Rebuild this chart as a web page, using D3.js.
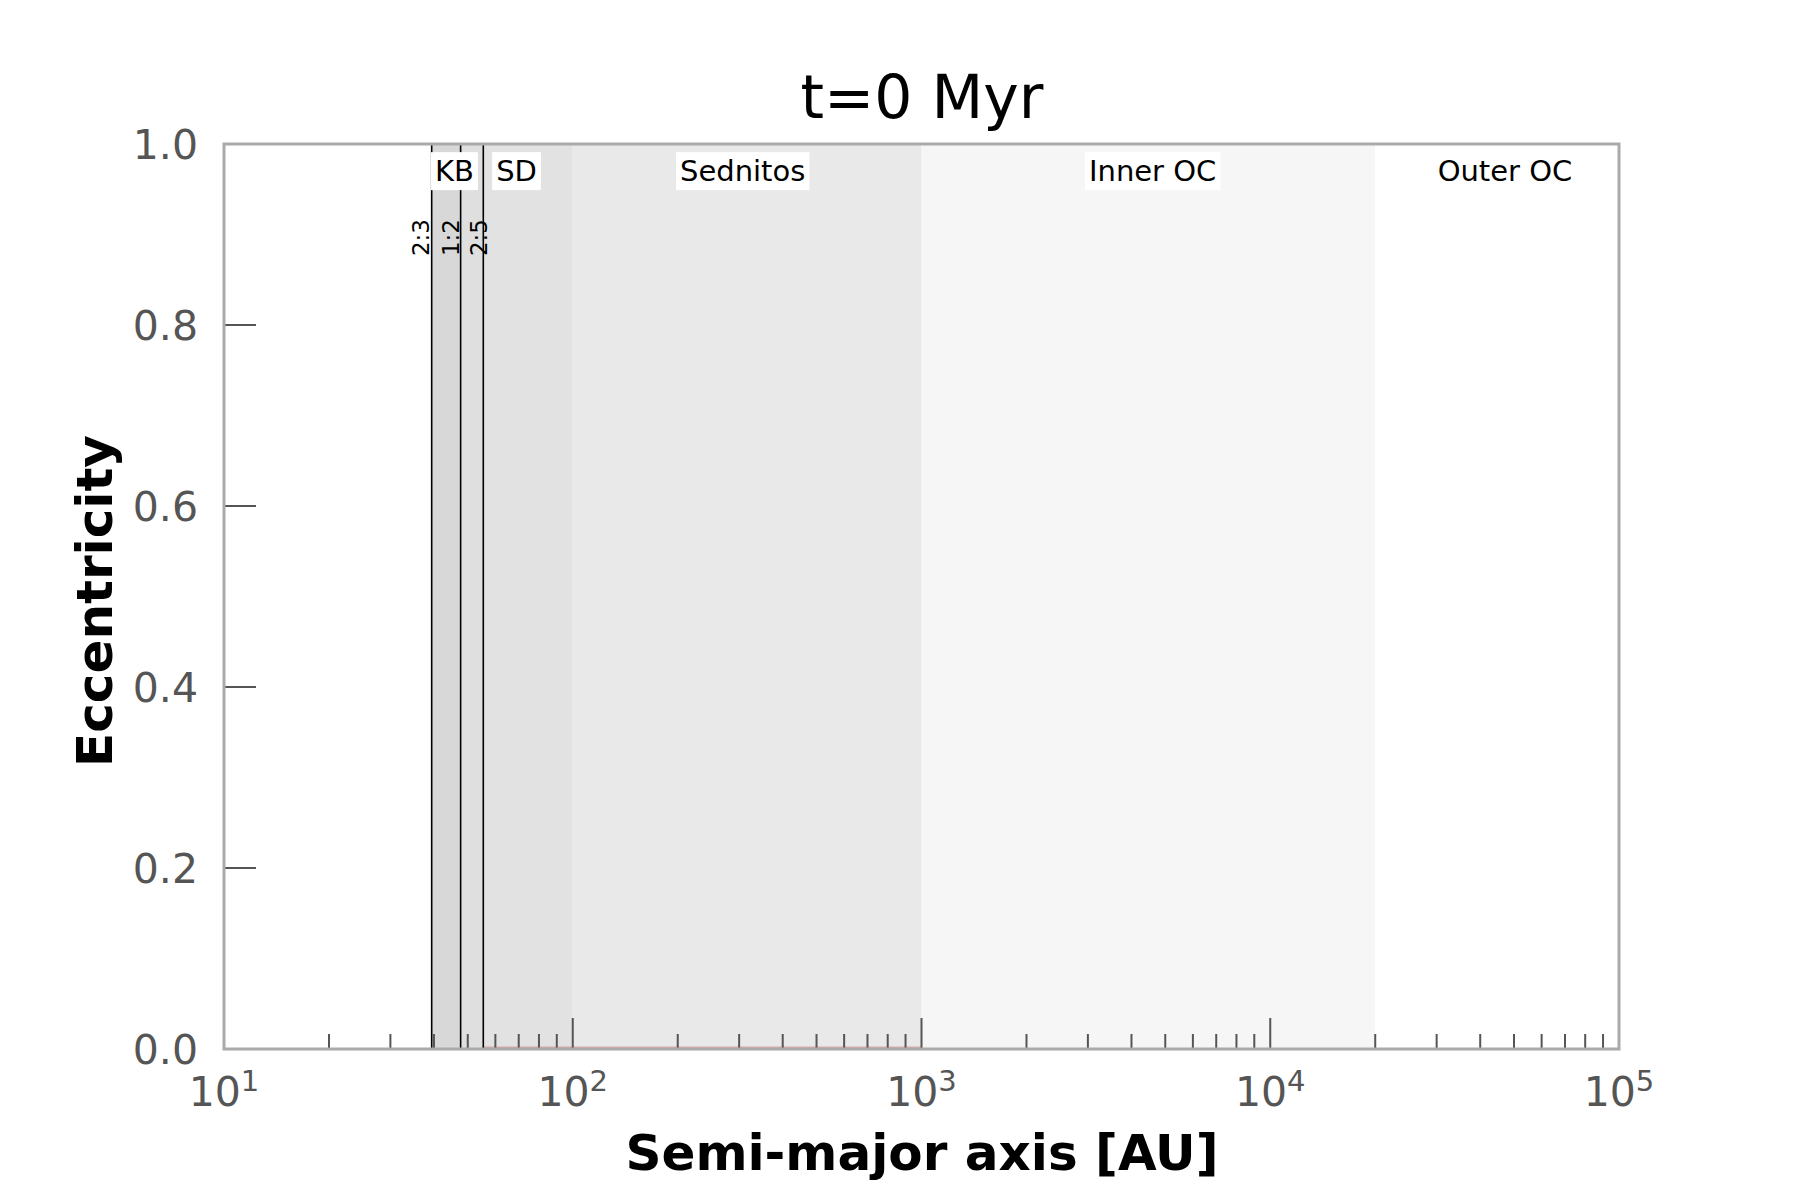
<!DOCTYPE html>
<html>
<head>
<meta charset="utf-8">
<script src="https://cdn.jsdelivr.net/npm/d3@7"></script>
<style>
  body { margin: 0; background: #fff; }
  svg { font-family: "DejaVu Sans", sans-serif; }
</style>
</head>
<body>
<svg id="canvas" width="1800" height="1200"></svg>
<script>
// data
var regionStart = [39.4, 47.7, 55.4, 100, 1000, 20000];
var regionEnd   = [47.7, 55.4, 100, 1000, 20000, 100000];
var regionFill  = ['#d8d8d8', '#dfdfdf', '#e2e2e2', '#e9e9e9', '#f6f6f6', '#ffffff'];

var labelNames = ['KB', 'SD', 'Sednitos', 'Inner OC', 'Outer OC'];
var labelAt    = [45.8, 69, 307, 4600, 47100];

var resonanceNames  = ['2:3', '1:2', '2:5'];
var resonanceA      = [39.4, 47.7, 55.4];
var resonanceLabelA = [38.7, 47.2, 56.8];

// particles at t=0 (all near-circular)
var particleA = [55, 62, 70, 80, 95, 110, 130, 160, 200, 250, 320, 400, 500, 620, 750, 880, 1000];
var particleE = [0.002, 0.002, 0.002, 0.002, 0.002, 0.002, 0.002, 0.002, 0.002, 0.002, 0.002, 0.002, 0.002, 0.002, 0.002, 0.002, 0.002];

var yTicks = [0.0, 0.2, 0.4, 0.6, 0.8, 1.0];
var xDecades = [1, 2, 3, 4, 5];

var margin = {left: 224, right: 1619, top: 144, bottom: 1049};

var svg = d3.select('#canvas');

var x = d3.scaleLog().domain([10, 100000]).range([margin.left, margin.right]);
var y = d3.scaleLinear().domain([0, 1]).range([margin.bottom, margin.top]);

var plot = svg.append('g').attr('class', 'plot');

// shaded regions
regionStart.forEach(function(a0, i) {
    plot.append('rect')
        .attr('x', x(a0))
        .attr('y', y(1))
        .attr('width', x(regionEnd[i]) - x(a0))
        .attr('height', y(0) - y(1))
        .attr('fill', regionFill[i]);
});

// particles
var line = d3.line().x(function(d) { return x(d[0]); }).y(function(d) { return y(d[1]); });
plot.append('path')
    .attr('d', line(d3.zip(particleA, particleE)))
    .attr('fill', 'none')
    .attr('stroke', '#d99a9a')
    .attr('stroke-width', 1.5)
    .attr('opacity', 0.8);

// resonance lines + labels
resonanceA.forEach(function(a, i) {
    var xp = x(a);
    plot.append('line')
        .attr('x1', xp).attr('x2', xp)
        .attr('y1', y(1)).attr('y2', y(0))
        .attr('stroke', '#000')
        .attr('stroke-width', 1.6);
    plot.append('text')
        .attr('transform', 'translate(' + x(resonanceLabelA[i]) + ',219) rotate(-90)')
        .attr('text-anchor', 'end')
        .attr('font-size', 23)
        .attr('fill', '#000')
        .text(resonanceNames[i]);
});

// region labels with white boxes
labelNames.forEach(function(name, i) {
    var g = plot.append('g').attr('transform', 'translate(' + x(labelAt[i]) + ',171)');
    var t = g.append('text')
        .attr('text-anchor', 'middle')
        .attr('dy', '0.35em')
        .attr('font-size', 29)
        .attr('fill', '#000')
        .text(name);
    var bb = t.node().getBBox();
    g.insert('rect', 'text')
        .attr('x', bb.x - 4).attr('y', bb.y - 2)
        .attr('width', bb.width + 8).attr('height', bb.height + 4)
        .attr('fill', '#fff');
});

// x ticks (inside)
var axes = svg.append('g').attr('class', 'axes');
xDecades.forEach(function(p) {
    var v = Math.pow(10, p);
    axes.append('line')
        .attr('x1', x(v)).attr('x2', x(v))
        .attr('y1', y(0)).attr('y2', y(0) - 31)
        .attr('stroke', '#555').attr('stroke-width', 2);
    if (p < 5) {
        for (var k = 2; k <= 9; k++) {
            axes.append('line')
                .attr('x1', x(k * v)).attr('x2', x(k * v))
                .attr('y1', y(0)).attr('y2', y(0) - 15)
                .attr('stroke', '#555').attr('stroke-width', 2);
        }
    }
    var lbl = axes.append('text')
        .attr('x', x(v))
        .attr('y', 1106)
        .attr('text-anchor', 'middle')
        .attr('font-size', 41)
        .attr('fill', '#555');
    lbl.append('tspan').text('10');
    lbl.append('tspan').attr('dy', -15).attr('font-size', 29).text(p);
});

// y ticks (inside)
yTicks.forEach(function(v) {
    axes.append('line')
        .attr('x1', margin.left).attr('x2', margin.left + 32)
        .attr('y1', y(v)).attr('y2', y(v))
        .attr('stroke', '#555').attr('stroke-width', 2);
    axes.append('text')
        .attr('x', 198)
        .attr('y', y(v))
        .attr('dy', '0.36em')
        .attr('text-anchor', 'end')
        .attr('font-size', 41)
        .attr('fill', '#555')
        .text(d3.format('.1f')(v));
});

// frame
axes.append('rect')
    .attr('x', margin.left).attr('y', margin.top)
    .attr('width', margin.right - margin.left)
    .attr('height', margin.bottom - margin.top)
    .attr('fill', 'none')
    .attr('stroke', '#aaa')
    .attr('stroke-width', 3);

// titles
svg.append('text')
    .attr('x', 922).attr('y', 118)
    .attr('text-anchor', 'middle')
    .attr('font-size', 60)
    .attr('fill', '#000')
    .text('t=0 Myr');

svg.append('text')
    .attr('x', 922).attr('y', 1170)
    .attr('text-anchor', 'middle')
    .attr('font-size', 50)
    .attr('font-weight', 'bold')
    .attr('fill', '#000')
    .text('Semi-major axis [AU]');

svg.append('text')
    .attr('transform', 'translate(112,601) rotate(-90)')
    .attr('text-anchor', 'middle')
    .attr('font-size', 50)
    .attr('font-weight', 'bold')
    .attr('fill', '#000')
    .text('Eccentricity');
</script>
</body>
</html>
